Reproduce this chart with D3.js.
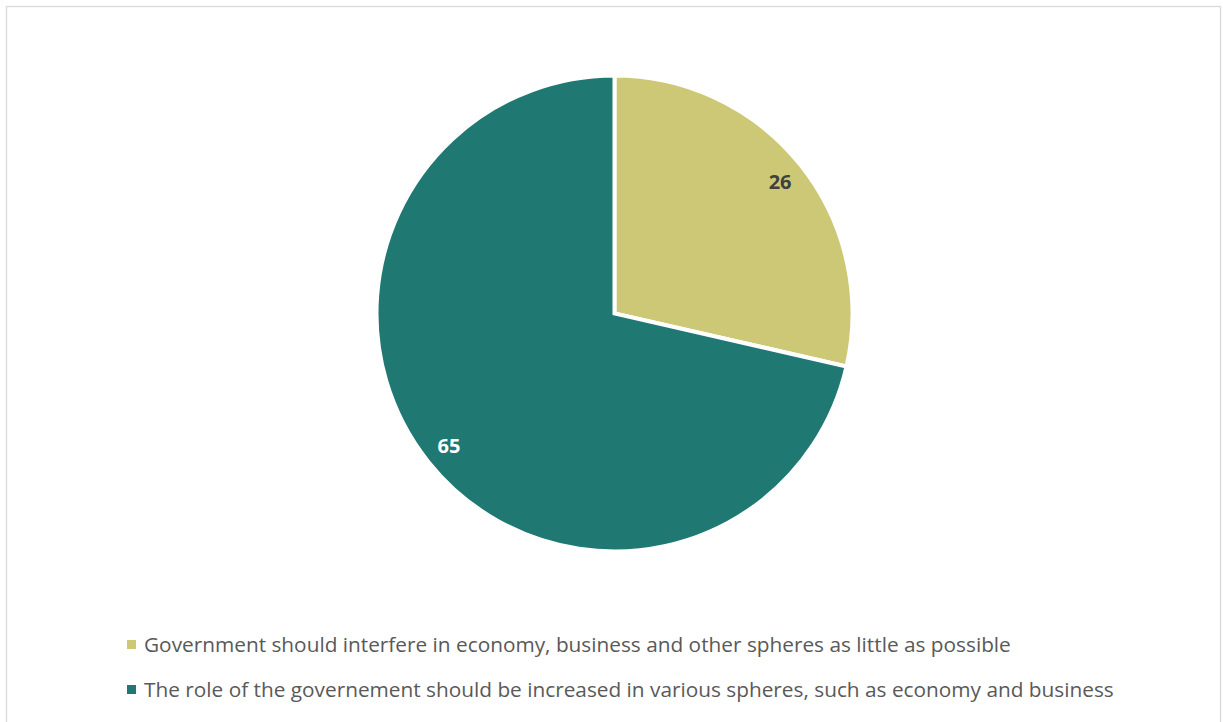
<!DOCTYPE html>
<html>
<head>
<meta charset="utf-8">
<script src="https://cdn.jsdelivr.net/npm/d3@7"></script>
<style>
  html, body { margin: 0; padding: 0; background: #fff; }
  svg { display: block; }
  text { font-family: "Open Sans", "Lato", sans-serif; }
</style>
</head>
<body>
<script>
// Survey answers: role of government in the economy
const categories = [
  "Government should interfere in economy, business and other spheres as little as possible",
  "The role of the governement should be increased in various spheres, such as economy and business"
];
const values = [26, 65];
const colors = ["#CDC875", "#1F7872"];
const labelColors = ["#404040", "#FFFFFF"];

const W = 1223, H = 722;
const svg = d3.select("body").append("svg").attr("width", W).attr("height", H);

// chart frame
svg.append("rect")
  .attr("x", 6.5).attr("y", 6.5)
  .attr("width", 1214).attr("height", 730)
  .attr("fill", "#fff").attr("stroke", "#D9D9D9").attr("stroke-width", 1.3);

const cx = 614.5, cy = 313.5, R = 238;

const pie = d3.pie().sort(null).value(d => d)(values);
const arc = d3.arc().innerRadius(0).outerRadius(R);
const labelArc = d3.arc().innerRadius(R * 0.89).outerRadius(R * 0.89);

const g = svg.append("g").attr("transform", `translate(${cx},${cy})`);

g.selectAll("path.slice")
  .data(pie)
  .join("path")
  .attr("class", "slice")
  .attr("d", arc)
  .attr("fill", (d, i) => colors[i])
  .attr("stroke", "#fff")
  .attr("stroke-width", 4)
  .attr("stroke-linejoin", "miter");

g.selectAll("text.val")
  .data(pie)
  .join("text")
  .attr("class", "val")
  .attr("transform", d => `translate(${labelArc.centroid(d)})`)
  .attr("text-anchor", "middle")
  .attr("dy", "0.36em")
  .attr("font-size", 20)
  .attr("font-weight", 700)
  .attr("fill", (d, i) => labelColors[i])
  .text(d => d.data);

// legend
const legend = svg.append("g");
const rowY = [645, 690];
categories.forEach((c, i) => {
  legend.append("rect")
    .attr("x", 127).attr("y", rowY[i] - 5)
    .attr("width", 9).attr("height", 9)
    .attr("fill", colors[i]);
  legend.append("text")
    .attr("x", 144).attr("y", rowY[i])
    .attr("dy", "0.35em")
    .attr("font-size", 20.8)
    .attr("fill", "#595959")
    .text(c);
});
</script>
</body>
</html>
